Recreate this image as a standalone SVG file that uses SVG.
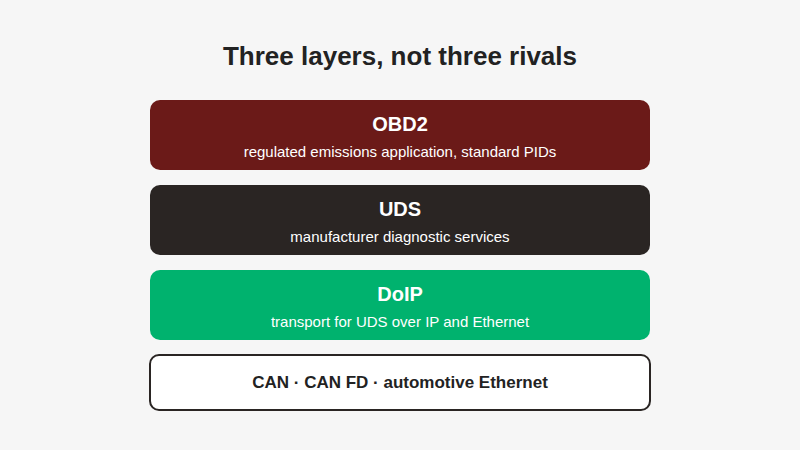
<svg xmlns="http://www.w3.org/2000/svg" width="800" height="450" viewBox="0 0 800 450">
<style>
text{font-family:"Liberation Sans",Arial,sans-serif;text-anchor:middle}
.t{font-size:26px;font-weight:bold;fill:#222}
.h{font-size:20px;font-weight:bold;fill:#fff}
.s{font-size:15px;fill:#fff}
.c{font-size:17px;font-weight:bold;fill:#222}
</style>
<rect width="800" height="450" fill="#f6f6f6"/>
<text class="t" x="400" y="65">Three layers, not three rivals</text>
<g id="obd2"><rect x="150" y="100" width="500" height="70" rx="10" fill="#6b1a18"/><text class="h" x="400" y="131">OBD2</text><text class="s" x="400" y="157">regulated emissions application, standard PIDs</text></g>
<g id="uds"><rect x="150" y="185" width="500" height="70" rx="10" fill="#2a2523"/><text class="h" x="400" y="216">UDS</text><text class="s" x="400" y="242">manufacturer diagnostic services</text></g>
<g id="doip"><rect x="150" y="270" width="500" height="70" rx="10" fill="#00b26e"/><text class="h" x="400" y="301">DoIP</text><text class="s" x="400" y="327">transport for UDS over IP and Ethernet</text></g>
<g id="can"><rect x="150" y="355" width="500" height="55" rx="9" fill="#fff" stroke="#2a2523" stroke-width="2"/><text class="c" x="400" y="388">CAN · CAN FD · automotive Ethernet</text></g>
<g id="connectors"></g>
</svg>
